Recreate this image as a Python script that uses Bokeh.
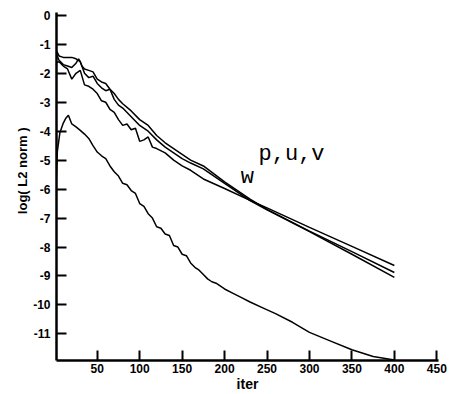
from bokeh.plotting import figure
from bokeh.models import Range1d, FixedTicker, Label, Title
from bokeh.embed import file_html
from bokeh.resources import INLINE

# ---- data ----
iter_a = [0, 5, 10, 15, 20, 25, 30, 35, 40, 45, 50, 55, 60, 65, 70, 75, 80, 85, 90, 95, 100,
          105, 110, 115, 120, 130, 140, 150, 160, 175, 200, 230, 250, 300, 350, 400]
norm_a = [-1.65, -1.6, -1.75, -1.85, -2.2, -2.0, -1.9, -2.4, -2.45, -2.55, -2.7, -2.95, -3.0,
          -3.25, -3.35, -3.6, -3.8, -3.75, -3.95, -3.9, -4.35, -4.3, -4.2, -4.55, -4.6, -4.75,
          -5.0, -5.2, -5.35, -5.65, -5.98, -6.39, -6.65, -7.32, -7.98, -8.64]

iter_b = [0, 5, 10, 15, 20, 25, 30, 32, 35, 40, 45, 50, 55, 60, 65, 70, 75, 80, 90, 100, 110,
          120, 130, 140, 150, 160, 175, 200, 230, 250, 300, 350, 400]
norm_b = [-1.1, -1.4, -1.45, -1.45, -1.45, -1.5, -1.6, -1.75, -1.85, -1.9, -1.95, -2.2, -2.3,
          -2.35, -2.55, -2.7, -2.9, -3.05, -3.3, -3.6, -3.8, -4.15, -4.4, -4.6, -4.8, -5.0,
          -5.2, -5.75, -6.35, -6.7, -7.45, -8.16, -8.88]

iter_c = [0, 5, 10, 15, 20, 25, 28, 30, 35, 40, 45, 50, 55, 60, 65, 70, 75, 80, 90, 100, 110,
          120, 130, 140, 150, 160, 175, 200, 230, 250, 300, 350, 400]
norm_c = [-1.2, -1.55, -1.7, -1.75, -1.8, -1.65, -1.5, -1.6, -2.0, -2.15, -2.1, -2.35, -2.5,
          -2.6, -2.55, -2.9, -3.1, -3.2, -3.5, -3.8, -4.0, -4.3, -4.55, -4.75, -4.95, -5.1,
          -5.3, -5.8, -6.4, -6.72, -7.47, -8.25, -9.05]

iter_w = [1, 3, 6, 10, 13, 16, 20, 25, 30, 35, 40, 45, 50, 55, 60, 65, 70, 75, 80, 85, 90, 95,
          100, 105, 110, 115, 120, 125, 130, 135, 140, 145, 150, 155, 160, 165, 170, 175, 180,
          185, 190, 200, 210, 220, 230, 245, 260, 280, 300, 325, 350, 375, 400]
norm_w = [-6.2, -4.7, -4.05, -3.72, -3.55, -3.45, -3.75, -3.85, -3.97, -4.1, -4.25, -4.5, -4.72,
          -4.85, -4.95, -5.2, -5.4, -5.55, -5.8, -5.85, -6.05, -6.15, -6.5, -6.6, -6.85, -7.0,
          -7.3, -7.35, -7.55, -7.6, -7.95, -8.0, -8.25, -8.3, -8.55, -8.7, -8.8, -8.95, -9.1,
          -9.2, -9.25, -9.45, -9.6, -9.75, -9.9, -10.1, -10.3, -10.6, -10.95, -11.25, -11.55,
          -11.78, -11.9]

x_ticks = [50, 100, 150, 200, 250, 300, 350, 400, 450]
y_ticks = [0, -1, -2, -3, -4, -5, -6, -7, -8, -9, -10, -11]

x_title = "iter"
y_title = "log( L2 norm )"
label_puv = "p,u,v"
label_w = "w"

# ---- figure ----
p = figure(width=451, height=394, output_backend="svg", toolbar_location=None,
           x_range=Range1d(2, 452), y_range=Range1d(-11.92, 0.1),
           min_border_left=56, min_border_right=13, min_border_top=12, min_border_bottom=31)
p.outline_line_color = None
p.grid.visible = False
p.background_fill_color = "white"
p.border_fill_color = "white"

for ax in (p.xaxis[0], p.yaxis[0]):
    ax.axis_line_width = 2.5
    ax.axis_line_color = "black"
    ax.major_tick_in = 10
    ax.major_tick_out = 0
    ax.major_tick_line_width = 2
    ax.major_tick_line_color = "black"
    ax.minor_tick_line_color = None
    ax.major_label_text_font = "Liberation Sans"
    ax.major_label_text_font_style = "bold"
    ax.major_label_text_font_size = "12px"
    ax.major_label_text_color = "black"
    ax.axis_label_text_font = "Liberation Sans"
    ax.axis_label_text_font_style = "bold"
    ax.axis_label_text_color = "black"

p.xaxis.ticker = FixedTicker(ticks=x_ticks)
p.yaxis.ticker = FixedTicker(ticks=y_ticks)
p.yaxis.major_label_overrides = {t: str(t) for t in y_ticks}
p.xaxis.major_label_standoff = 3
p.yaxis.major_label_standoff = 6
p.xaxis.axis_label = x_title
p.xaxis.axis_label_text_font_size = "14px"
p.xaxis.axis_label_standoff = 0

# y-axis title as a left-side title so it can sit where the reference has it
p.add_layout(Title(text=y_title, align="right", offset=115, standoff=2,
                   text_font="Liberation Sans", text_font_style="bold",
                   text_font_size="13px", text_color="black"), "left")

lw = 1.5
p.line(iter_a, norm_a, line_color="black", line_width=lw)
p.line(iter_b, norm_b, line_color="black", line_width=lw)
p.line(iter_c, norm_c, line_color="black", line_width=lw)
p.line(iter_w, norm_w, line_color="black", line_width=lw)

p.add_layout(Label(x=240, y=-4.8, text=label_puv, text_font="Liberation Mono",
                   text_font_size="22px", text_color="black",
                   text_align="left", text_baseline="middle"))
p.add_layout(Label(x=219, y=-5.6, text=label_w, text_font="Liberation Mono",
                   text_font_size="22px", text_color="black",
                   text_align="left", text_baseline="middle"))

open("out.html", "w").write(file_html(p, INLINE))
